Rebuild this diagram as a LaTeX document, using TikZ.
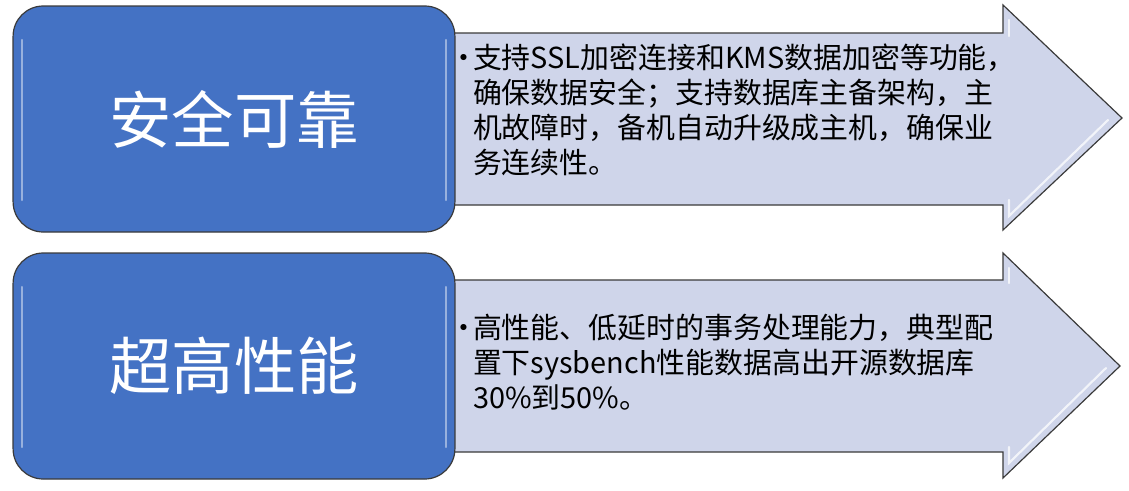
\documentclass[tikz,border=0pt]{standalone}
\usepackage{fontspec}
\setmainfont{Noto Sans CJK SC}
\usetikzlibrary{calc}

\definecolor{boxblue}{HTML}{4472C4}
\definecolor{arrowfill}{HTML}{CFD5EA}
\definecolor{edgegray}{HTML}{3A3A3A}

\newcommand{\bulletgap}{\makebox[0.47cm][l]{\hspace{-0.15cm}\textbullet}}
\newcommand{\hanggap}{\hspace*{0.47cm}}

\tikzset{
  arrowbody/.style={fill=arrowfill, draw=edgegray, line width=0.9pt, line join=miter},
  bevel/.style={white, line width=1.6pt, opacity=0.75, line cap=round},
  titlebox/.style={draw=edgegray, line width=0.9pt, fill=boxblue, rounded corners=0.8cm,
    minimum width=11.71cm, minimum height=5.99cm, text=white,
    font=\fontsize{47}{56}\selectfont},
  pointtext/.style={anchor=west, inner sep=0pt, align=left,
    font=\fontsize{21.8}{26.4}\selectfont},
}

\begin{document}
\begin{tikzpicture}[x=0.0265cm, y=-0.0265cm]
  \useasboundingbox (0,0) rectangle (1129,490);

  % 第一行：箭头
  \coordinate (T1) at (1122,118);
  \draw[arrowbody] (440,33) -- (1003,33) -- (1003,5) -- (T1) -- (1003,230) -- (1003,205) -- (440,205) -- cycle;
  \draw[bevel] (1009,36) -- (1009,20);
  \draw[bevel] (1009,200) -- (1009,216) -- (1108,120);

  % 第一行：标题框
  \node[titlebox] (safe) at (234,119) {安全可靠};
  \draw[bevel, opacity=0.45] (22,40) -- (22,200);
  \draw[bevel, opacity=0.45] (446,40) -- (446,200);

  % 第一行：说明文字
  \node[pointtext] (safetext) at (455,110) {%
    \bulletgap 支持SSL加密连接和KMS数据加密等功能，\\
    \hanggap 确保数据安全；支持数据库主备架构，主\\
    \hanggap 机故障时，备机自动升级成主机，确保业\\
    \hanggap 务连续性。};

  % 第二行：箭头
  \coordinate (T2) at (1120,366);
  \draw[arrowbody] (440,280) -- (1003,280) -- (1003,253) -- (T2) -- (1003,478) -- (1003,452) -- (440,452) -- cycle;
  \draw[bevel] (1009,283) -- (1009,268);
  \draw[bevel] (1009,447) -- (1009,463) -- (1106,368);

  % 第二行：标题框
  \node[titlebox] (fast) at (234,366) {超高性能};
  \draw[bevel, opacity=0.45] (22,287) -- (22,447);
  \draw[bevel, opacity=0.45] (446,287) -- (446,447);

  % 第二行：说明文字
  \node[pointtext] (fasttext) at (455,362) {%
    \bulletgap 高性能、低延时的事务处理能力，典型配\\
    \hanggap 置下sysbench性能数据高出开源数据库\\
    \hanggap 30\%到50\%。};
\end{tikzpicture}
\end{document}
